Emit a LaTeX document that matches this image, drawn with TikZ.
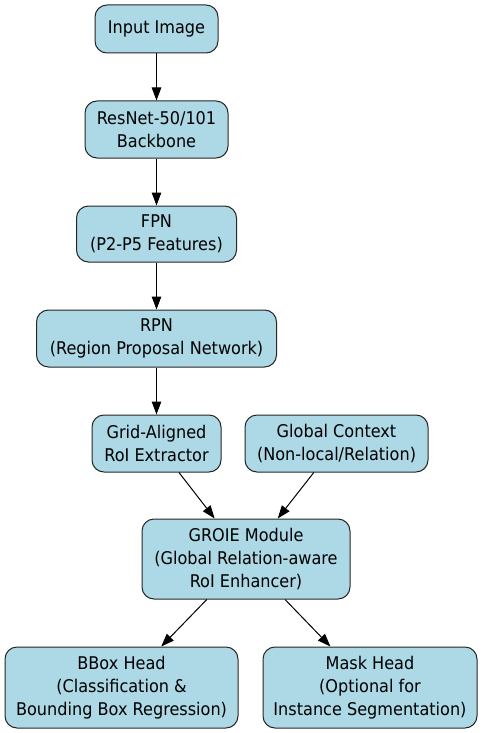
\documentclass[tikz,border=0pt]{standalone}
\usepackage{fontspec}
\setmainfont{DejaVu Sans}[FakeStretch=0.92]
\usetikzlibrary{arrows.meta}
\definecolor{boxfill}{HTML}{ADD8E6}
\begin{document}
\begin{tikzpicture}[x=1pt,y=-1pt,
  box/.style={draw=black!85,line width=1pt,fill=boxfill,rounded corners=12pt,
    align=center,inner sep=0pt,font=\fontsize{17.5}{23}\selectfont},
  arr/.style={draw=black,line width=1pt,-{Triangle[length=13pt,width=9.5pt]}}]
\useasboundingbox (0,0) rectangle (485,733);
\node[box,minimum width=123pt,minimum height=48pt] (inp) at (156.5,29) {Input Image};
\node[box,minimum width=143pt,minimum height=57pt] (res) at (156.5,129.5) {ResNet-50/101\\Backbone};
\node[box,minimum width=160pt,minimum height=56pt] (fpn) at (156.5,234) {FPN\\(P2-P5 Features)};
\node[box,minimum width=240pt,minimum height=57pt] (rpn) at (156.5,338.5) {RPN\\(Region Proposal Network)};
\node[box,minimum width=129pt,minimum height=57pt] (grid) at (156.5,443.5) {Grid-Aligned\\RoI Extractor};
\node[box,minimum width=183pt,minimum height=57pt] (glob) at (336.5,443.5) {Global Context\\(Non-local/Relation)};
\node[box,minimum width=208pt,minimum height=80pt] (groie) at (246,559) {GROIE Module\\(Global Relation-aware\\RoI Enhancer)};
\node[box,minimum width=233pt,minimum height=81pt] (bbox) at (121.5,687.5) {BBox Head\\(Classification \&\\Bounding Box Regression)};
\node[box,minimum width=214pt,minimum height=81pt] (mask) at (370,687.5) {Mask Head\\(Optional for\\Instance Segmentation)};
\draw[arr] (inp) -- (res);
\draw[arr] (res) -- (fpn);
\draw[arr] (fpn) -- (rpn);
\draw[arr] (rpn) -- (grid);
\draw[arr] (grid) -- (groie);
\draw[arr] (glob) -- (groie);
\draw[arr] (groie) -- (bbox);
\draw[arr] (groie) -- (mask);
\end{tikzpicture}
\end{document}
